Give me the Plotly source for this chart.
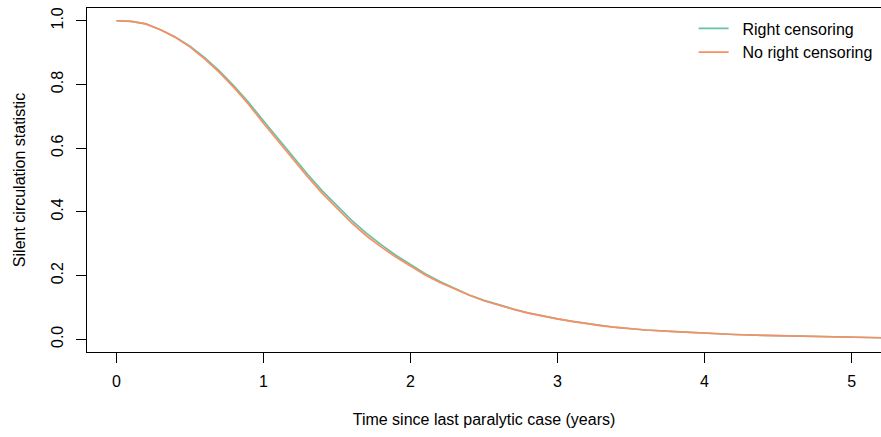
import plotly.graph_objects as go

years = [0.0, 0.1, 0.2, 0.3, 0.4, 0.5, 0.6, 0.7, 0.8, 0.9,
         1.0, 1.1, 1.2, 1.3, 1.4, 1.5, 1.6, 1.7, 1.8, 1.9,
         2.0, 2.1, 2.2, 2.3, 2.4, 2.5, 2.6, 2.7, 2.8, 2.9,
         3.0, 3.1, 3.2, 3.3, 3.4, 3.5, 3.6, 3.8, 4.0, 4.2,
         4.4, 4.6, 4.8, 5.0, 5.2, 5.4]

right_censoring = [1.000, 0.998, 0.990, 0.972, 0.949, 0.920, 0.884, 0.843, 0.795, 0.743,
                   0.686, 0.630, 0.573, 0.518, 0.466, 0.418, 0.373, 0.333, 0.297, 0.264,
                   0.236, 0.206, 0.181, 0.159, 0.139, 0.122, 0.108, 0.095, 0.083, 0.073,
                   0.064, 0.056, 0.049, 0.042, 0.037, 0.033, 0.029, 0.024, 0.019, 0.015,
                   0.012, 0.010, 0.008, 0.007, 0.004, 0.003]

no_right_censoring = [1.000, 0.998, 0.990, 0.972, 0.948, 0.918, 0.880, 0.838, 0.790, 0.737,
                      0.678, 0.622, 0.565, 0.510, 0.458, 0.410, 0.365, 0.325, 0.290, 0.258,
                      0.231, 0.202, 0.178, 0.157, 0.138, 0.121, 0.107, 0.094, 0.082, 0.072,
                      0.064, 0.056, 0.048, 0.042, 0.037, 0.033, 0.029, 0.024, 0.019, 0.015,
                      0.012, 0.010, 0.008, 0.007, 0.004, 0.003]

series_names = ["Right censoring", "No right censoring"]
colors = ["#66C2A5", "#FC8D62"]

x_ticks = [0, 1, 2, 3, 4, 5]
y_ticks = [0.0, 0.2, 0.4, 0.6, 0.8, 1.0]

fig = go.Figure()
for name, vals, col in zip(series_names, [right_censoring, no_right_censoring], colors):
    fig.add_trace(go.Scatter(x=years, y=vals, mode="lines", name="\u00a0\u00a0" + name,
                             line=dict(color=col, width=1.7)))

font = dict(family="Liberation Sans, Arial, sans-serif", size=16, color="#000000")

fig.update_layout(
    width=881, height=437,
    margin=dict(l=87, r=0, t=8, b=85),
    paper_bgcolor="white", plot_bgcolor="white",
    font=font,
    showlegend=True,
    legend=dict(x=0.764, y=0.99, xanchor="left", yanchor="top",
                bgcolor="rgba(0,0,0,0)", font=font, tracegroupgap=0),
    xaxis=dict(range=[-0.2, 5.2], tickvals=x_ticks, ticks="outside", ticklen=10,
               tickcolor="#000", showline=True, linecolor="#000", linewidth=1,
               mirror=True, showgrid=False, zeroline=False, tickfont=font,
               title=dict(text="Time since last paralytic case (years)", standoff=24,
                          font=font),
               ticklabelstandoff=5),
    yaxis=dict(range=[-0.04, 1.04], tickvals=y_ticks, tickformat=".1f",
               ticks="outside", ticklen=10, tickcolor="#000", tickangle=-90,
               showline=True, linecolor="#000", linewidth=1, mirror=False,
               showgrid=False, zeroline=False, tickfont=font,
               title=dict(text="Silent circulation statistic", standoff=18, font=font),
               ticklabelstandoff=7),
)

fig.write_html("out.html")
